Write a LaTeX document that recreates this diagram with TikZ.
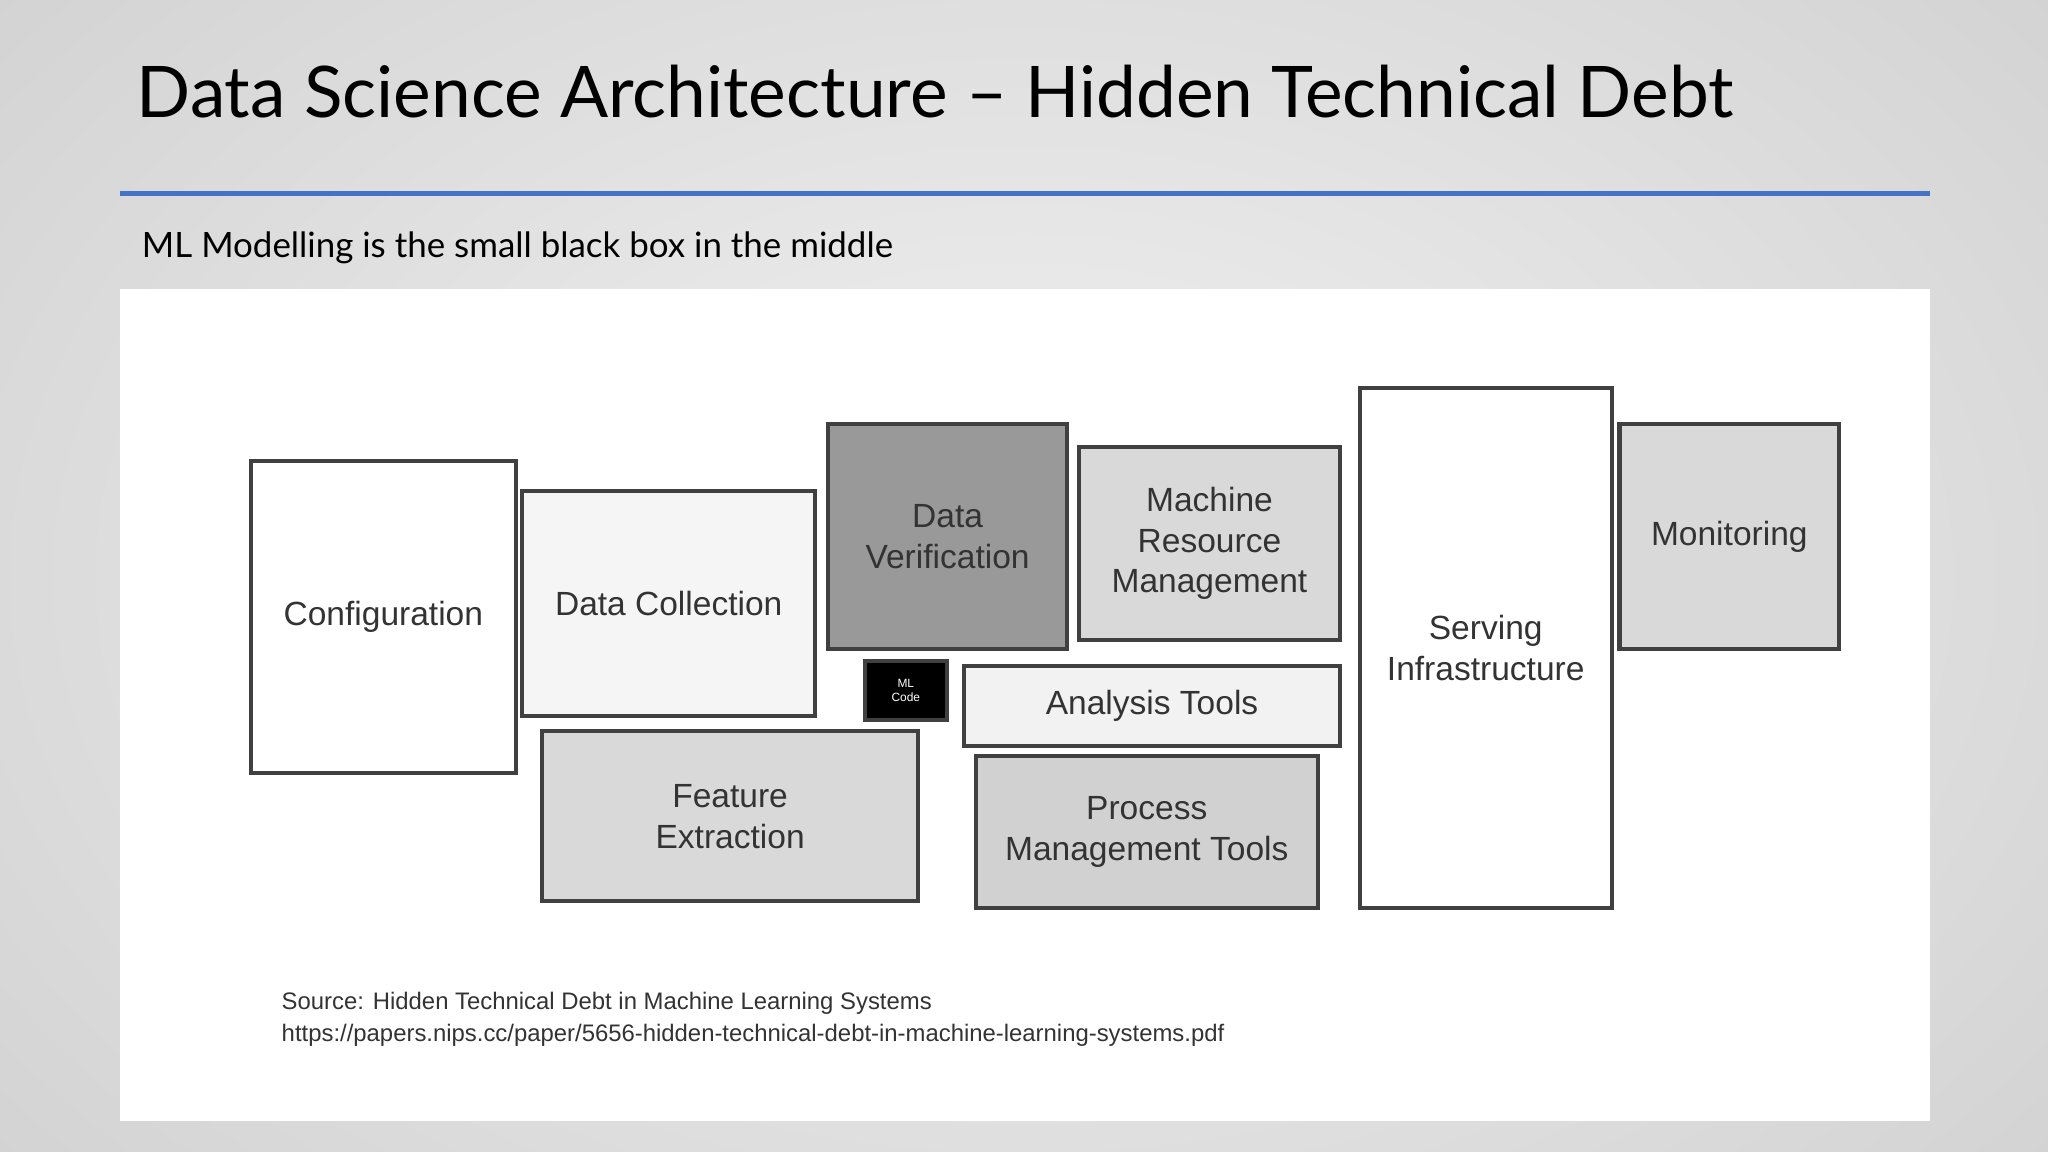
\documentclass[tikz,border=0pt]{standalone}
\usepackage{fontspec}
\setmainfont{Lato}
\newfontfamily\boxfont{Liberation Sans}
\begin{document}
\begin{tikzpicture}[x=0.01cm,y=-0.01cm,
  blk/.style={draw=black!75,line width=0.9pt,inner sep=0pt,align=center,
    font=\boxfont\fontsize{7.3}{8.9}\selectfont,text=black!80},
  src/.style={anchor=west,inner sep=0pt,font=\boxfont\fontsize{5.2}{6}\selectfont,text=black!80}]
\useasboundingbox (0,0) rectangle (1568,882);
\shade[inner color=white!95!black,outer color=black!18] (-300,-300) rectangle (1868,1182);
\node[anchor=west,inner sep=0pt,font=\fontsize{15.5}{17}\selectfont] (title) at (104,70) {Data Science Architecture -- Hidden Technical Debt};
\draw[line width=1.2pt,draw={rgb,255:red,68;green,114;blue,196}] (92,148) -- (1478,148);
\node[anchor=west,inner sep=0pt,font=\fontsize{7.6}{9}\selectfont] (sub) at (108,190) {ML Modelling is the small black box in the middle};
\fill[white] (92,221) rectangle (1478,858);
\node[blk,fill=white,minimum width=2.03cm,minimum height=2.39cm] (conf) at (293.5,472.5) {Configuration};
\node[blk,fill=black!4,minimum width=2.24cm,minimum height=1.72cm] (dc) at (512,462) {Data Collection};
\node[blk,fill=black!40,minimum width=1.83cm,minimum height=1.72cm] (dv) at (725.5,411) {Data\\Verification};
\node[blk,fill=black!15,minimum width=2.00cm,minimum height=1.48cm] (mrm) at (926,416) {Machine\\Resource\\Management};
\node[blk,fill=white,minimum width=1.93cm,minimum height=3.98cm] (serv) at (1137.5,496) {Serving\\Infrastructure};
\node[blk,fill=black!15,minimum width=1.68cm,minimum height=1.72cm] (mon) at (1324,411) {Monitoring};
\node[blk,fill=black,text=white,font=\boxfont\fontsize{2.6}{3}\selectfont,minimum width=0.63cm,minimum height=0.45cm] (ml) at (693.5,528.5) {ML\\Code};
\node[blk,fill=black!5,minimum width=2.88cm,minimum height=0.61cm] (at) at (882,540.5) {Analysis Tools};
\node[blk,fill=black!15,minimum width=2.88cm,minimum height=1.30cm] (fe) at (559,625) {Feature\\Extraction};
\node[blk,fill=black!18,minimum width=2.62cm,minimum height=1.16cm] (pm) at (878,637) {Process\\Management Tools};
\node[src] (s1) at (215,768) {Source: Hidden Technical Debt in Machine Learning Systems};
\node[src] (s2) at (215,793) {https://papers.nips.cc/paper/5656-hidden-technical-debt-in-machine-learning-systems.pdf};
\end{tikzpicture}
\end{document}
